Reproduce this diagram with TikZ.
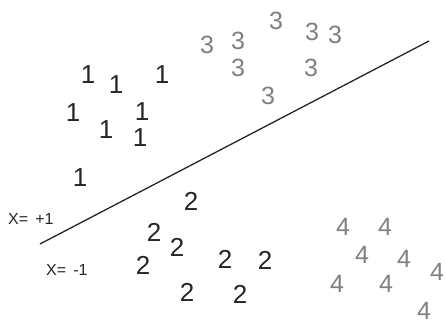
\documentclass[tikz,border=0pt]{standalone}
\usepackage{fontspec}
\setmainfont{Liberation Sans}
\begin{document}
\begin{tikzpicture}[x=1pt,y=-1pt,
  dA/.style={inner sep=0pt,font=\fontsize{26}{28}\selectfont,text=black!85},
  dB/.style={inner sep=0pt,font=\fontsize{25}{27}\selectfont,text=black!50},
  lab/.style={inner sep=0pt,font=\fontsize{16}{18}\selectfont,anchor=west,text=black!85}]
\clip (0,0) rectangle (445,324);
\fill[white] (0,0) rectangle (445,324);
% class 1
\node[dA] (a1) at (88,75) {1};
\node[dA] (a2) at (116,85) {1};
\node[dA] (a3) at (162,75) {1};
\node[dA] (a4) at (73,113) {1};
\node[dA] (a5) at (142,112) {1};
\node[dA] (a6) at (106,130) {1};
\node[dA] (a7) at (140,138) {1};
\node[dA] (a8) at (80,178) {1};
% class 3
\node[dB] (c1) at (207,45) {3};
\node[dB] (c2) at (238,41) {3};
\node[dB] (c3) at (276,21) {3};
\node[dB] (c4) at (312,32) {3};
\node[dB] (c5) at (335,35) {3};
\node[dB] (c6) at (238,68) {3};
\node[dB] (c7) at (311,68) {3};
\node[dB] (c8) at (268,96) {3};
% class 2
\node[dA] (b1) at (191,201) {2};
\node[dA] (b2) at (154,232) {2};
\node[dA] (b3) at (177,247) {2};
\node[dA] (b4) at (143,265) {2};
\node[dA] (b5) at (225,259) {2};
\node[dA] (b6) at (265,260) {2};
\node[dA] (b7) at (187,292) {2};
\node[dA] (b8) at (240,294) {2};
% class 4
\node[dB] (d1) at (343,227) {4};
\node[dB] (d2) at (385,227) {4};
\node[dB] (d3) at (362,255) {4};
\node[dB] (d4) at (404,259) {4};
\node[dB] (d5) at (437,272) {4};
\node[dB] (d6) at (337,284) {4};
\node[dB] (d7) at (386,284) {4};
\node[dB] (d8) at (424,311) {4};
% separating line
\coordinate (p) at (40,244);
\coordinate (q) at (429,41);
\draw[line width=1.3pt,black!85] (p) -- (q);
\node[lab] (xp) at (8,219) {X= \,+1};
\node[lab] (xm) at (46,270) {X= \,-1};
\end{tikzpicture}
\end{document}
